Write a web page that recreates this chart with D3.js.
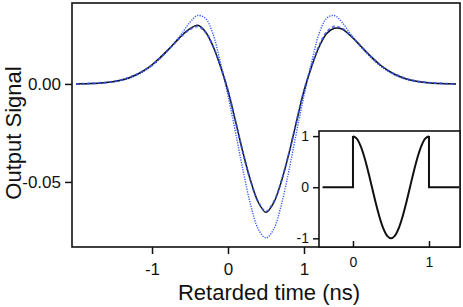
<!DOCTYPE html>
<html>
<head>
<meta charset="utf-8">
<script src="https://cdn.jsdelivr.net/npm/d3@7"></script>
<style>
  html, body { margin: 0; padding: 0; background: #fff; }
  svg { display: block; font-family: "Liberation Sans", Arial, Helvetica, sans-serif; }
</style>
</head>
<body>
<div id="chart"></div>
<script>
// retarded time grid (ns)
const timeNs = [-2.0, -1.9, -1.8, -1.7, -1.6, -1.5, -1.4, -1.3, -1.2, -1.1,
  -1.0, -0.9, -0.8, -0.7, -0.6, -0.5, -0.4, -0.3, -0.2, -0.1,
  0.0, 0.1, 0.2, 0.3, 0.4, 0.5, 0.6, 0.7, 0.8, 0.9,
  1.0, 1.1, 1.2, 1.3, 1.4, 1.5, 1.6, 1.7, 1.8, 1.9,
  2.0, 2.1, 2.2, 2.3, 2.4, 2.5, 2.6, 2.7, 2.8, 2.9, 3.0];

// solid black
const blackSignal = [0.0000, 0.0001, 0.0002, 0.0004, 0.0007, 0.0012, 0.0020, 0.0032, 0.0048, 0.0070,
  0.0098, 0.0132, 0.0170, 0.0210, 0.0250, 0.0282, 0.0299, 0.0268, 0.0195, 0.0090,
  -0.0035, -0.0192, -0.0355, -0.0497, -0.0605, -0.0655, -0.0607, -0.0500, -0.0358, -0.0195,
  -0.0035, 0.0088, 0.0190, 0.0258, 0.0284, 0.0280, 0.0250, 0.0212, 0.0172, 0.0133,
  0.0098, 0.0070, 0.0048, 0.0032, 0.0020, 0.0012, 0.0007, 0.0004, 0.0002, 0.0001, 0.0000];

// thick blue dashes
const dashedSignal = [0.0000, 0.0001, 0.0003, 0.0005, 0.0008, 0.0013, 0.0021, 0.0033, 0.0049, 0.0070,
  0.0097, 0.0130, 0.0168, 0.0209, 0.0248, 0.0278, 0.0293, 0.0266, 0.0196, 0.0092,
  -0.0034, -0.0192, -0.0356, -0.0498, -0.0603, -0.0650, -0.0603, -0.0498, -0.0356, -0.0193,
  -0.0033, 0.0092, 0.0196, 0.0266, 0.0293, 0.0283, 0.0252, 0.0212, 0.0171, 0.0132,
  0.0098, 0.0070, 0.0049, 0.0033, 0.0021, 0.0013, 0.0008, 0.0005, 0.0003, 0.0001, 0.0000];

// thin blue dots
const dottedSignal = [0.0000, 0.0001, 0.0002, 0.0004, 0.0007, 0.0011, 0.0018, 0.0029, 0.0045, 0.0066,
  0.0093, 0.0127, 0.0167, 0.0212, 0.0262, 0.0315, 0.0349, 0.0336, 0.0258, 0.0110,
  -0.0060, -0.0250, -0.0445, -0.0620, -0.0742, -0.0786, -0.0742, -0.0620, -0.0445, -0.0250,
  -0.0060, 0.0110, 0.0258, 0.0336, 0.0349, 0.0315, 0.0262, 0.0212, 0.0167, 0.0127,
  0.0093, 0.0066, 0.0045, 0.0029, 0.0018, 0.0011, 0.0007, 0.0004, 0.0002, 0.0001, 0.0000];

const mainXTicks = [-1, 0, 1];
const mainYTicks = [0.00, -0.05];

// inset: input pulse
const pulseT = [0, 0.05, 0.1, 0.15, 0.2, 0.25, 0.3, 0.35, 0.4, 0.45, 0.5,
  0.55, 0.6, 0.65, 0.7, 0.75, 0.8, 0.85, 0.9, 0.95, 1.0];
const pulseV = [1, 0.951, 0.809, 0.588, 0.309, 0, -0.309, -0.588, -0.809, -0.951, -1,
  -0.951, -0.809, -0.588, -0.309, 0, 0.309, 0.588, 0.809, 0.951, 1];
const leadT = [-0.4, 0, 0];
const leadV = [0, 0, 1];
const trailT = [1, 1, 1.4];
const trailV = [1, 0, 0];
const insetXTicks = [0, 1];
const insetYTicks = [1, 0, -1];

const W = 463, H = 307;
const blue = "#3355f5";

const svg = d3.select("#chart").append("svg")
  .attr("width", W)
  .attr("height", H);

const x = d3.scaleLinear().domain([-2.053, 3.053]).range([72, 460]);
const y = d3.scaleLinear().domain([-0.0832, 0.0413]).range([247, 3]);

const line = d3.line()
  .x(d => x(d[0]))
  .y(d => y(d[1]))
  .curve(d3.curveCatmullRom.alpha(0.5));

svg.append("path")
  .datum(d3.zip(timeNs, dottedSignal))
  .attr("d", line)
  .attr("fill", "none")
  .attr("stroke", blue)
  .attr("stroke-width", 1.4)
  .attr("stroke-dasharray", "1.2,1.3");

svg.append("path")
  .datum(d3.zip(timeNs, blackSignal))
  .attr("d", line)
  .attr("fill", "none")
  .attr("stroke", "#111")
  .attr("stroke-width", 1.5);

svg.append("path")
  .datum(d3.zip(timeNs, dashedSignal))
  .attr("d", line)
  .attr("fill", "none")
  .attr("stroke", blue)
  .attr("stroke-width", 1.9)
  .attr("stroke-dasharray", "3,2.5")
  .attr("opacity", 0.8);

// axes
const xAxis = svg.append("g")
  .attr("transform", "translate(0,247)")
  .call(d3.axisBottom(x).tickValues(mainXTicks).tickSize(7).tickPadding(9)
    .tickFormat(d3.format("d")));

const yAxis = svg.append("g")
  .attr("transform", "translate(72,0)")
  .call(d3.axisLeft(y).tickValues(mainYTicks).tickSize(7).tickPadding(4)
    .tickFormat(d3.format(".2f")));

[xAxis, yAxis].forEach(g => {
  g.select(".domain").remove();
  g.selectAll(".tick line").attr("stroke", "#111").attr("stroke-width", 1.5);
  g.selectAll(".tick text").attr("fill", "#111").style("font-size", "17px")
    .style("font-family", "'Liberation Sans', Arial, sans-serif");
});
xAxis.selectAll(".tick text").text(d => d < 0 ? "-" + Math.abs(d) : d);
yAxis.selectAll(".tick text").text(d => d < 0 ? "-" + d3.format(".2f")(Math.abs(d)) : d3.format(".2f")(d));

// frame
svg.append("rect")
  .attr("x", 72).attr("y", 3)
  .attr("width", 388).attr("height", 244)
  .attr("fill", "none")
  .attr("stroke", "#111")
  .attr("stroke-width", 1.6);

// axis titles
svg.append("text")
  .attr("transform", "translate(21,133) rotate(-90)")
  .attr("text-anchor", "middle")
  .style("font-size", "22px")
  .attr("fill", "#111")
  .text("Output Signal");

svg.append("text")
  .attr("x", 269).attr("y", 300)
  .attr("text-anchor", "middle")
  .style("font-size", "22px")
  .attr("fill", "#111")
  .text("Retarded time (ns)");

// inset
const ix = d3.scaleLinear().domain([-0.447, 1.408]).range([319, 460]);
const iy = d3.scaleLinear().domain([-1.17, 1.10]).range([247, 131]);

const inset = svg.append("g");
inset.append("rect")
  .attr("x", 319).attr("y", 131)
  .attr("width", 141).attr("height", 116)
  .attr("fill", "#fff");

const ilineStraight = d3.line().x(d => ix(d[0])).y(d => iy(d[1]));
const ilineCurve = d3.line().x(d => ix(d[0])).y(d => iy(d[1]))
  .curve(d3.curveCatmullRom.alpha(0.5));

[d3.zip(leadT, leadV), d3.zip(trailT, trailV)].forEach(pts => {
  inset.append("path")
    .datum(pts)
    .attr("d", ilineStraight)
    .attr("fill", "none")
    .attr("stroke", "#111")
    .attr("stroke-width", 2);
});
inset.append("path")
  .datum(d3.zip(pulseT, pulseV))
  .attr("d", ilineCurve)
  .attr("fill", "none")
  .attr("stroke", "#111")
  .attr("stroke-width", 2);

const ixAxis = inset.append("g")
  .attr("transform", "translate(0,247)")
  .call(d3.axisBottom(ix).tickValues(insetXTicks).tickSizeInner(-6).tickSizeOuter(0).tickPadding(10)
    .tickFormat(d3.format("d")));
const iyAxis = inset.append("g")
  .attr("transform", "translate(319,0)")
  .call(d3.axisLeft(iy).tickValues(insetYTicks).tickSize(6).tickPadding(4)
    .tickFormat(d => d < 0 ? "-" + Math.abs(d) : d));

[ixAxis, iyAxis].forEach(g => {
  g.select(".domain").remove();
  g.selectAll(".tick line").attr("stroke", "#111").attr("stroke-width", 1.5);
  g.selectAll(".tick text").attr("fill", "#111").style("font-size", "14px")
    .style("font-family", "'Liberation Sans', Arial, sans-serif");
});

inset.append("rect")
  .attr("x", 319).attr("y", 131)
  .attr("width", 141).attr("height", 116)
  .attr("fill", "none")
  .attr("stroke", "#111")
  .attr("stroke-width", 1.6);
</script>
</body>
</html>
